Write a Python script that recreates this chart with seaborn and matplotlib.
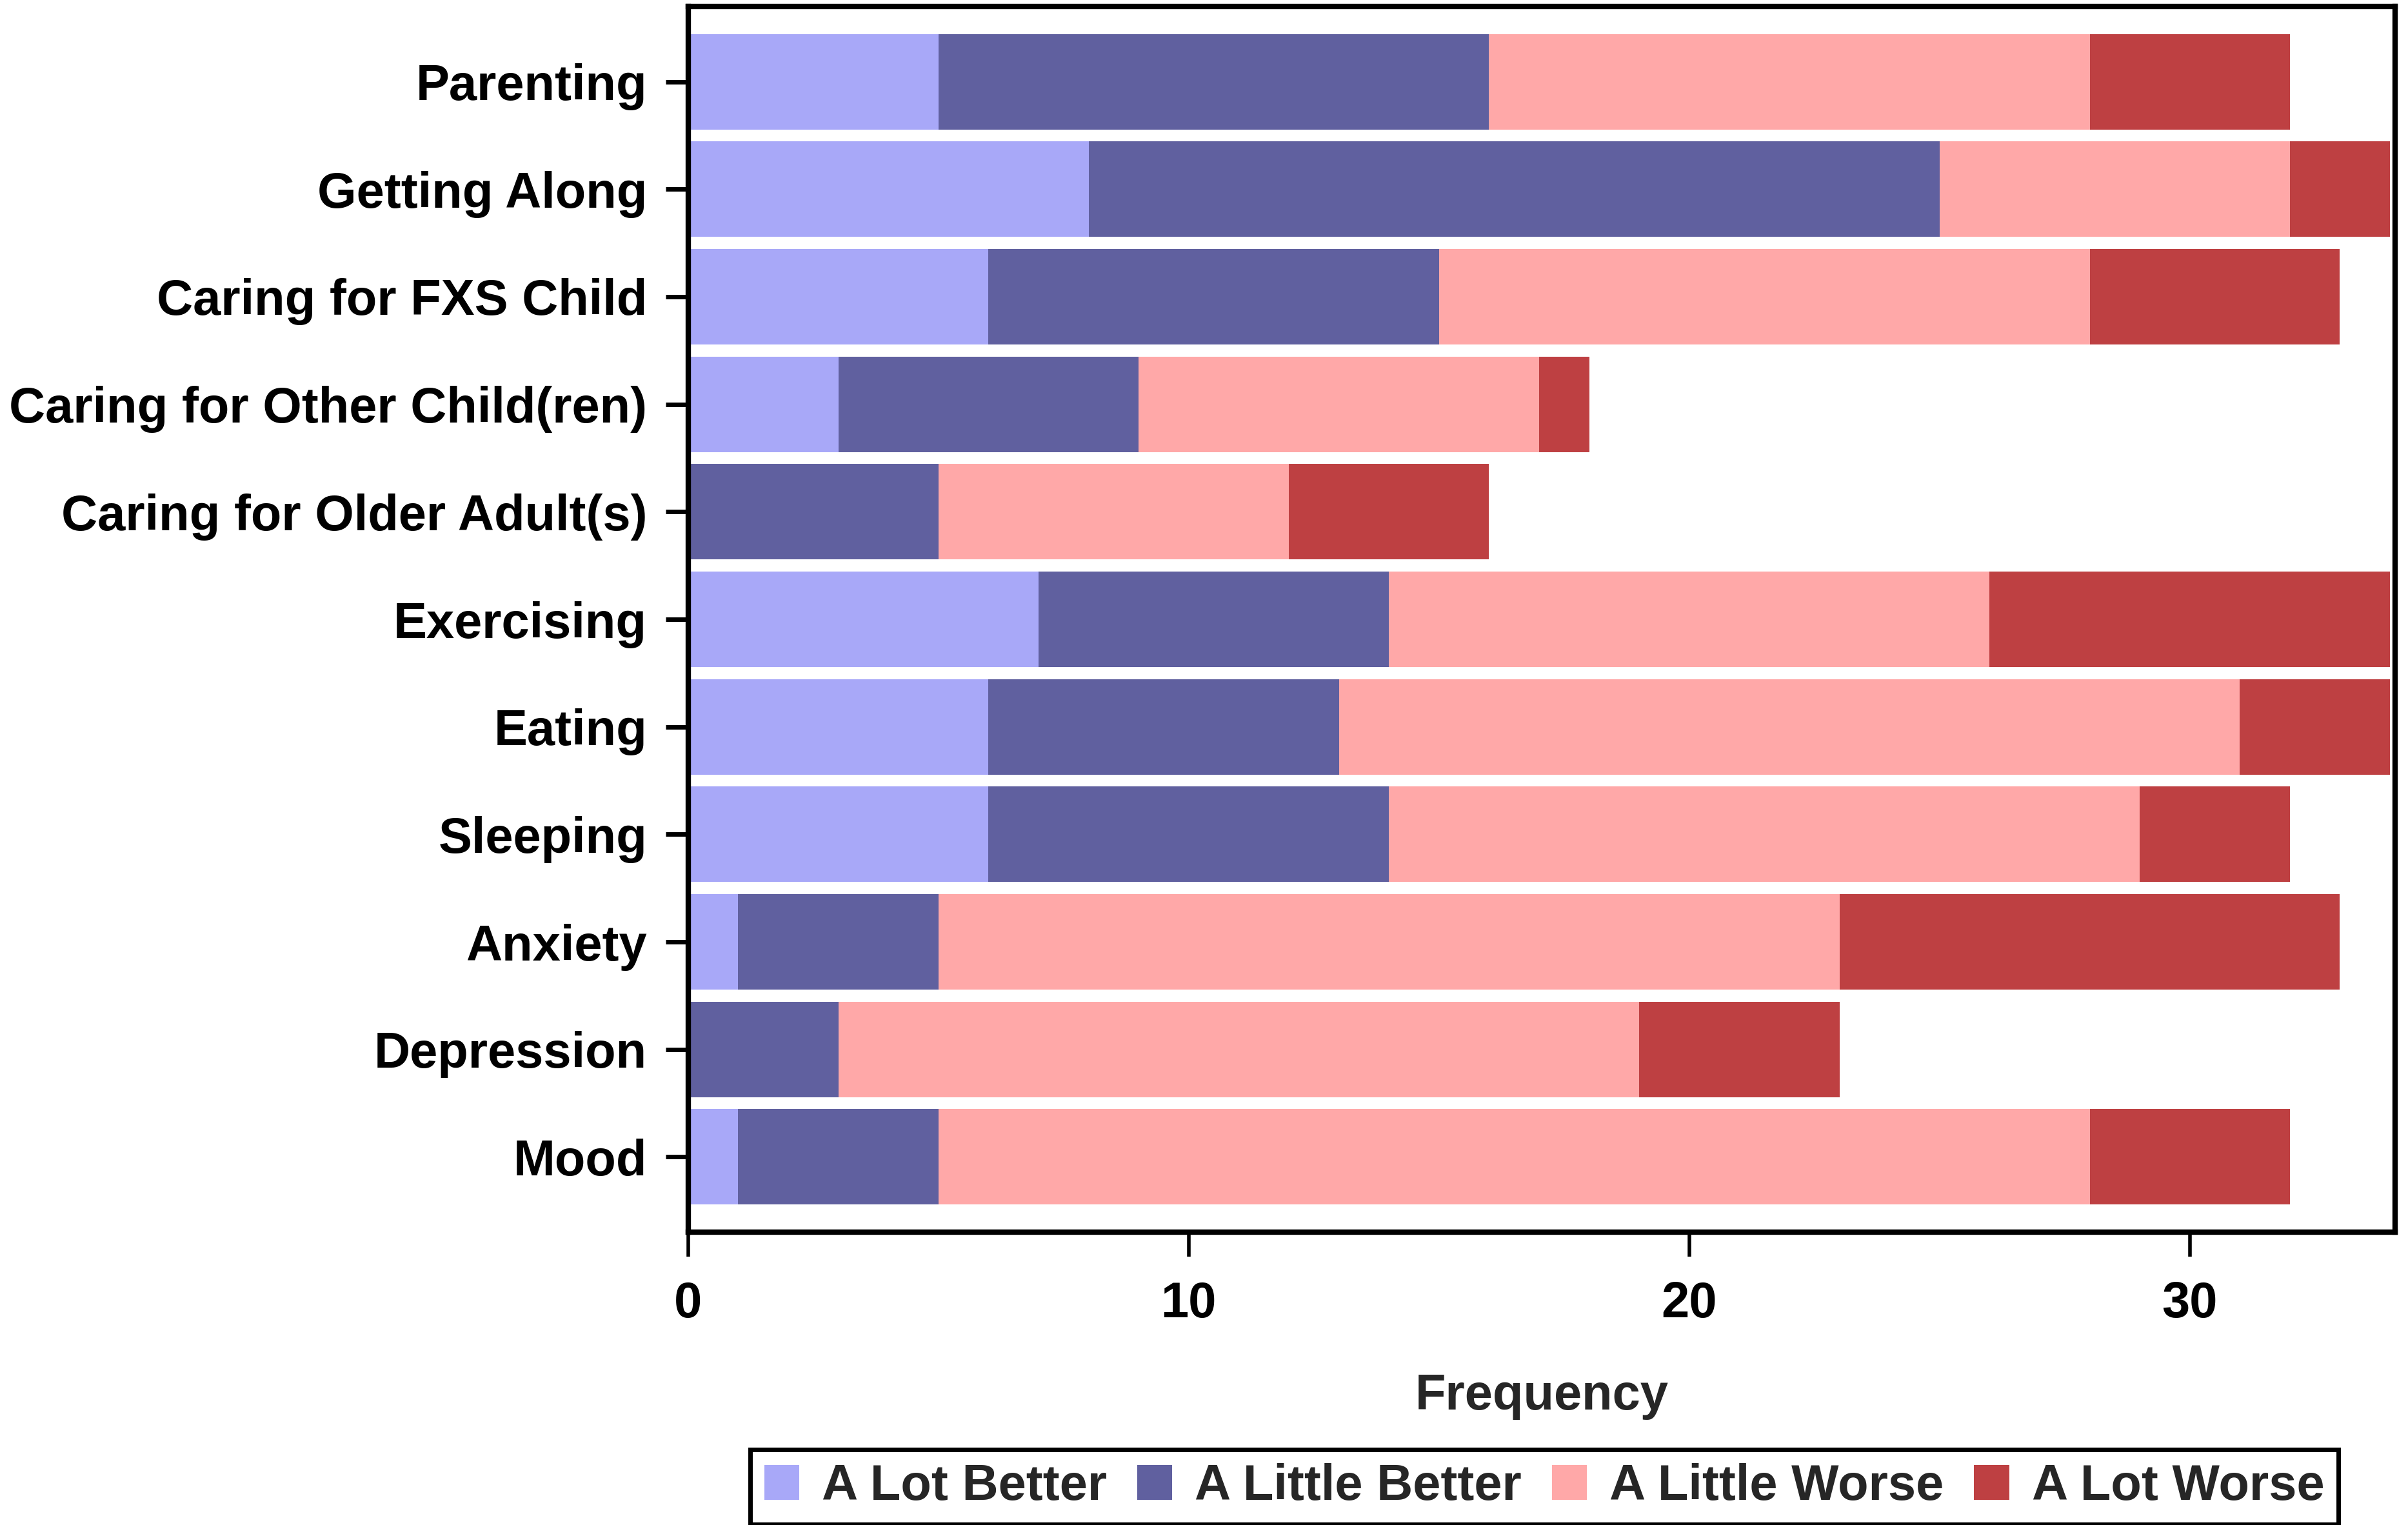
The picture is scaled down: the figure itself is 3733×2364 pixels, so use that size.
import matplotlib
matplotlib.use("Agg")
import matplotlib.pyplot as plt
import seaborn as sns
import numpy as np
import pandas as pd
from matplotlib.patches import Patch

categories = ["Parenting", "Getting Along", "Caring for FXS Child",
              "Caring for Other Child(ren)", "Caring for Older Adult(s)",
              "Exercising", "Eating", "Sleeping", "Anxiety", "Depression", "Mood"]
a_lot_better = [5, 8, 6, 3, 0, 7, 6, 6, 1, 0, 1]
a_little_better = [11, 17, 9, 6, 5, 7, 7, 8, 4, 3, 4]
a_little_worse = [12, 7, 13, 8, 7, 12, 18, 15, 18, 16, 23]
a_lot_worse = [4, 2, 5, 1, 4, 8, 3, 3, 10, 4, 4]
series_names = ["A Lot Better", "A Little Better", "A Little Worse", "A Lot Worse"]
colors = ["#A8A8F8", "#60609F", "#FFA8A8", "#BE4042"]
x_ticks = [0, 10, 20, 30]

sns.set_theme(style="white")
plt.rcParams['font.family'] = ['Liberation Sans', 'DejaVu Sans']
plt.rcParams['font.weight'] = 'bold'

FS = 28
fig = plt.figure(figsize=(18.665, 11.82), dpi=200)
ax = fig.add_axes([0.2858, 0.192, 0.7088, 0.8038])

series = [a_lot_better, a_little_better, a_little_worse, a_lot_worse]
cum = np.cumsum(np.array(series, dtype=float), axis=0)
df = pd.DataFrame({"category": categories})
for i in range(4):
    df[series_names[i]] = cum[i]

for i in reversed(range(4)):
    sns.barplot(data=df, y="category", x=series_names[i], order=categories,
                color=colors[i], saturation=1, width=0.888, linewidth=0,
                errorbar=None, ax=ax, orient="h")

ax.set_xlim(0, 34.1)
ax.set_ylim(10.7, -0.7)
ax.set_xticks(x_ticks)
ax.set_xticklabels([str(t) for t in x_ticks], fontsize=FS, fontweight='bold')
ax.set_yticks(range(len(categories)))
ax.set_yticklabels(categories, fontsize=FS, fontweight='bold')
ax.set_ylabel("")
ax.set_xlabel("Frequency", fontsize=FS, fontweight='bold', labelpad=25)

for s in ax.spines.values():
    s.set_visible(True)
    s.set_color("black")
    s.set_linewidth(3)
ax.tick_params(axis='y', which='major', left=True, length=12.5, width=2.5,
               pad=10.5, color='black', labelcolor='black')
ax.tick_params(axis='x', which='major', bottom=True, length=13.5, width=2.0,
               pad=13.5, color='black', labelcolor='black')

handles = [Patch(facecolor=c, edgecolor='none', label=n) for c, n in zip(colors, series_names)]
leg = fig.legend(handles=handles, loc='center', bbox_to_anchor=(0.6413, 0.025),
                 ncol=4, frameon=True, fancybox=False, framealpha=1,
                 edgecolor='black', prop={'size': FS, 'weight': 'bold'},
                 handlelength=0.7, handleheight=0.7, handletextpad=0.45,
                 columnspacing=0.6, borderpad=0.28, borderaxespad=0)
leg.get_frame().set_linewidth(2.5)

fig.savefig("out.png", dpi=200, facecolor='white')
